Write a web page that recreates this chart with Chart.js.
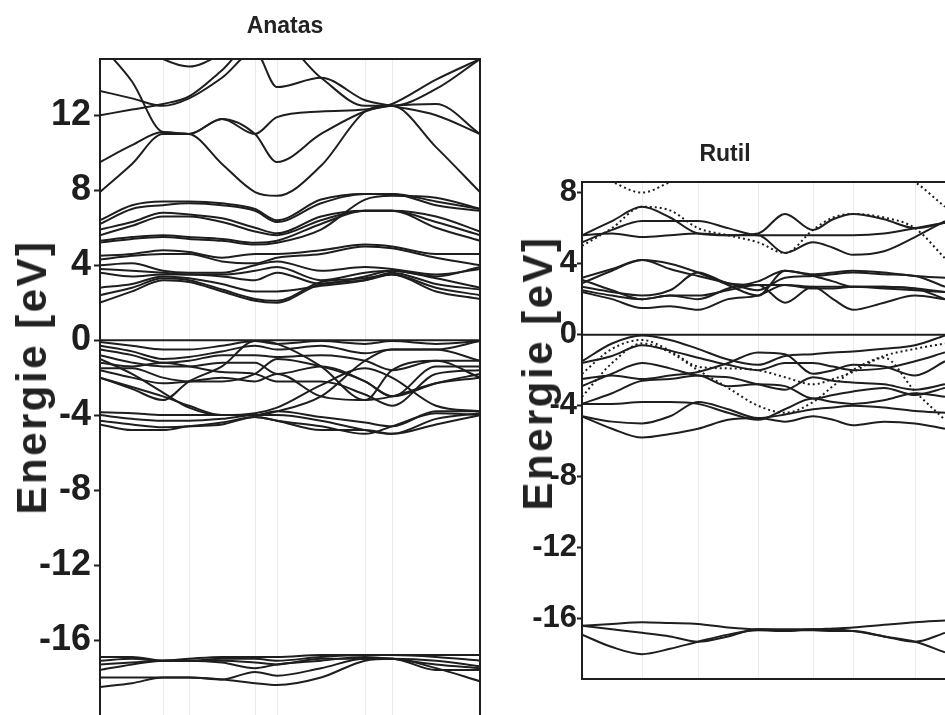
<!DOCTYPE html>
<html>
<head>
<title>Bandstruktur Anatas / Rutil</title>
<script src="https://cdn.jsdelivr.net/npm/chart.js"></script>
<style>
  html, body { margin: 0; padding: 0; background: #fff; overflow: hidden; }
  body { width: 945px; height: 715px; position: relative;
         font-family: "Liberation Sans", Arial, sans-serif; color: #222; }
  .box { position: absolute; top: 0; }
  .title { position: absolute; font-weight: bold; font-size: 23px; white-space: nowrap;
           transform: translate(-50%, -50%); }
  .ylab { position: absolute; font-weight: bold; font-size: 42px; letter-spacing: 2.5px;
          white-space: nowrap; transform: translate(-50%, -50%) rotate(-90deg); }
</style>
</head>
<body>

<div class="box" style="left:0;width:490px"><canvas id="anatas"></canvas></div>
<div class="box" style="left:500px;width:460px"><canvas id="rutil"></canvas></div>

<div class="title" style="left:285px;top:25px">Anatas</div>
<div class="title" style="left:725px;top:153px">Rutil</div>
<div class="ylab" style="left:32px;top:377px">Energie [eV]</div>
<div class="ylab" style="left:538px;top:373px">Energie [eV]</div>

<script>
/* ---------- ANATAS ---------- */
const anatasK = [0, 32, 63, 89, 122, 155, 177, 221, 265, 292, 336, 380];
const anatasSym = [63, 89, 155, 177, 265, 292];
const anatasTicks = [12, 8, 4, 0, -4, -8, -12, -16];

const anatasUpper = [
    [15.8, 13.8, 11.1, 11.0, 9.4, 7.9, 7.7, 9.3, 12.2, 12.6, 13.9, 15.0],
    [13.3, 12.9, 12.5, 12.9, 14.0, 15.4, 13.5, 14.0, 12.8, 12.5, 12.0, 11.0],
    [12.0, 12.3, 12.6, 13.0, 14.4, 16.0, 16.0, 14.0, 12.5, 12.5, 13.4, 15.0],
    [9.5, 10.4, 11.1, 11.0, 11.8, 11.0, 9.5, 11.0, 12.2, 12.5, 10.3, 7.9],
    [7.9, 9.4, 11.0, 11.0, 11.8, 11.0, 11.9, 12.2, 12.3, 12.5, 12.6, 11.0],
    [16.5, 16.0, 15.0, 14.6, 15.3, 16.5, 16.5, 16.5, 16.5, 16.5, 16.5, 16.5]
];
const anatasMiddle = [
    [6.4, 7.2, 7.4, 7.4, 7.3, 7.0, 6.4, 7.5, 7.8, 7.8, 7.4, 7.0],
    [6.2, 7.0, 7.2, 7.3, 7.2, 6.9, 6.3, 7.3, 7.8, 7.8, 7.2, 6.9],
    [5.9, 6.3, 6.8, 6.7, 6.5, 6.0, 5.7, 6.6, 6.9, 6.9, 6.6, 5.8],
    [5.6, 6.1, 6.6, 6.6, 6.3, 5.8, 5.6, 6.4, 6.9, 6.9, 6.3, 5.6],
    [5.3, 5.5, 5.6, 5.5, 5.4, 5.2, 5.3, 6.2, 6.9, 6.9, 6.0, 5.3],
    [5.2, 5.4, 5.5, 5.4, 5.3, 5.1, 5.2, 5.9, 7.5, 7.7, 7.6, 7.0],
    [4.5, 4.6, 4.8, 4.7, 4.4, 4.6, 4.6, 4.8, 5.1, 5.0, 4.6, 4.6],
    [4.3, 4.5, 4.6, 4.6, 4.2, 4.1, 4.4, 4.6, 5.0, 4.9, 4.4, 4.0],
    [4.0, 4.1, 3.7, 3.6, 3.6, 4.0, 4.2, 3.7, 3.9, 3.8, 3.5, 3.8],
    [3.8, 3.7, 3.6, 3.5, 3.5, 3.7, 3.9, 3.2, 3.6, 3.7, 3.4, 3.9],
    [3.6, 3.4, 3.5, 3.5, 3.4, 3.2, 3.6, 3.0, 3.4, 3.7, 3.3, 2.8],
    [2.8, 3.0, 3.4, 3.3, 3.0, 2.6, 2.6, 2.9, 3.2, 3.6, 3.0, 2.7],
    [2.4, 2.8, 3.3, 3.2, 2.7, 2.2, 2.1, 3.1, 3.3, 3.5, 2.8, 2.4],
    [2.0, 2.6, 3.2, 3.1, 2.6, 2.1, 2.0, 3.0, 3.2, 3.5, 2.6, 2.2]
];
const anatasValence = [
    [-0.1, -0.3, -0.5, -0.5, -0.3, -0.05, -0.2, -0.05, -0.2, -0.05, -0.2, -0.05],
    [-0.3, -0.6, -1.0, -0.9, -0.6, -0.3, -0.5, -0.3, -0.7, -0.5, -0.5, -0.05],
    [-0.5, -0.8, -1.2, -1.1, -0.8, -0.8, -0.9, -0.8, -1.1, -1.6, -1.1, -1.1],
    [-0.8, -1.2, -1.4, -1.4, -1.2, -1.2, -1.8, -1.4, -2.2, -3.0, -1.4, -1.4],
    [-1.2, -1.4, -1.2, -1.4, -1.7, -1.8, -2.2, -2.2, -2.9, -3.5, -1.8, -1.6],
    [-1.5, -1.5, -2.0, -2.2, -2.2, -1.8, -1.0, -1.4, -2.2, -3.0, -2.3, -1.8],
    [-1.6, -2.0, -2.3, -2.2, -2.0, -2.2, -1.8, -3.0, -3.2, -1.6, -1.1, -2.0],
    [-2.0, -2.5, -3.0, -3.5, -4.0, -4.0, -3.8, -3.0, -1.1, -0.5, -0.5, -1.1],
    [-2.0, -2.6, -3.2, -2.2, -1.4, -0.05, -0.2, -1.4, -3.2, -3.0, -2.3, -2.0],
    [-1.0, -1.8, -2.8, -3.6, -4.0, -3.9, -3.6, -2.4, -1.5, -2.0, -3.5, -3.8],
    [-3.85, -3.9, -4.0, -4.0, -4.0, -4.0, -3.8, -4.1, -4.4, -4.6, -3.8, -3.8],
    [-4.0, -4.2, -4.3, -4.3, -4.2, -4.0, -4.0, -4.3, -4.8, -5.0, -4.2, -3.9],
    [-4.3, -4.5, -4.65, -4.6, -4.4, -4.1, -4.3, -4.6, -5.0, -4.6, -3.9, -4.0],
    [-4.5, -4.8, -4.8, -4.6, -4.5, -4.1, -4.3, -4.8, -4.8, -5.0, -4.5, -4.0]
];
const anatasCore = [
    [-16.9, -16.9, -17.1, -17.0, -16.9, -16.9, -16.9, -16.8, -16.8, -16.8, -16.8, -16.8],
    [-17.1, -17.0, -17.1, -17.1, -17.0, -17.0, -17.1, -16.9, -16.8, -16.8, -16.9, -17.1],
    [-17.3, -17.2, -17.1, -17.1, -17.1, -17.2, -17.3, -17.0, -17.0, -17.0, -17.1, -17.4],
    [-17.6, -17.3, -17.1, -17.1, -17.2, -17.5, -17.3, -17.1, -16.9, -17.0, -17.3, -17.5],
    [-18.0, -18.0, -18.0, -18.0, -18.1, -17.7, -17.9, -17.5, -17.0, -17.0, -17.5, -18.2],
    [-18.5, -18.3, -18.0, -18.0, -18.1, -18.3, -18.4, -18.0, -17.1, -17.0, -17.6, -17.6]
];

/* ---------- RUTIL ---------- */
const rutilK = [0, 30, 60, 88, 116, 146, 176, 203, 231, 251, 271, 302, 333, 363];
const rutilSym = [60, 116, 176, 231, 271, 333];
const rutilTicks = [8, 4, 0, -4, -8, -12, -16];

const rutilConduction = [
    [5.6, 6.4, 7.2, 6.6, 5.7, 5.6, 5.7, 6.8, 5.9, 6.5, 6.8, 6.5, 6.0, 6.3],
    [5.6, 5.7, 5.5, 5.6, 5.7, 5.6, 5.6, 4.6, 5.2, 4.9, 4.5, 4.7, 5.5, 6.4],
    [5.2, 5.9, 6.4, 6.4, 6.4, 6.0, 5.6, 5.6, 5.6, 5.6, 5.6, 5.7, 6.0, 6.3],
    [3.2, 3.7, 4.2, 3.7, 3.3, 2.9, 2.5, 3.2, 3.3, 3.4, 3.5, 3.4, 3.3, 2.7],
    [2.9, 3.6, 4.2, 4.0, 3.5, 2.8, 2.2, 3.6, 3.3, 3.0, 2.7, 2.7, 2.6, 2.4],
    [2.7, 2.4, 2.2, 2.5, 3.5, 2.9, 2.8, 2.8, 2.7, 2.7, 2.7, 2.7, 2.6, 2.0],
    [2.5, 2.2, 2.0, 2.2, 2.2, 2.5, 2.8, 1.8, 2.7, 2.0, 1.4, 1.8, 2.2, 2.0],
    [2.4, 2.0, 1.5, 1.6, 1.4, 2.0, 2.2, 2.8, 2.6, 2.6, 2.7, 2.6, 2.5, 2.4],
    [3.1, 2.5, 2.0, 2.2, 2.0, 2.6, 3.0, 3.6, 3.4, 3.5, 3.6, 3.5, 3.3, 3.2]
];
const rutilConductionDotted = [
    [9.2, 8.6, 8.0, 8.6, 9.3, 9.6, 9.6, 9.6, 9.6, 9.6, 9.6, 9.6, 8.6, 7.2],
    [5.0, 6.0, 7.2, 7.0, 6.0, 5.6, 5.2, 4.6, 5.9, 6.6, 6.8, 6.6, 6.0, 4.3]
];
const rutilValence = [
    [-1.5, -0.5, -0.05, -0.3, -0.8, -1.4, -1.7, -1.2, -1.1, -1.0, -0.95, -0.8, -0.6, -0.05],
    [-1.6, -1.2, -0.6, -0.9, -1.3, -1.7, -2.0, -1.6, -1.6, -1.8, -2.0, -1.9, -1.5, -1.0],
    [-2.5, -2.3, -2.5, -2.3, -2.1, -1.6, -1.0, -1.1, -2.2, -2.0, -1.7, -1.8, -2.3, -1.5],
    [-2.9, -2.2, -1.6, -1.9, -2.3, -2.4, -2.8, -3.1, -2.4, -2.6, -2.7, -2.8, -3.1, -2.8],
    [-3.9, -3.3, -2.6, -2.5, -2.3, -2.9, -2.8, -2.9, -3.6, -3.4, -3.2, -3.0, -3.4, -3.0],
    [-3.9, -3.9, -3.8, -3.8, -3.9, -4.4, -4.8, -4.2, -3.6, -3.8, -3.9, -3.7, -3.3, -3.5],
    [-4.6, -4.9, -5.0, -4.6, -3.8, -4.2, -4.7, -4.5, -4.2, -4.1, -4.0, -4.1, -4.3, -4.4],
    [-4.6, -5.3, -5.8, -5.6, -5.3, -4.8, -4.7, -4.9, -4.6, -4.8, -5.1, -4.9, -5.0, -5.3]
];
const rutilValenceDotted = [
    [-3.5, -1.6, -0.5, -1.0, -2.0, -3.0, -4.0, -4.4, -3.8, -2.9, -2.0, -1.2, -0.8, -0.5],
    [-2.2, -0.8, -0.3, -0.9, -1.8, -1.9, -2.0, -2.4, -2.8, -2.5, -2.1, -1.3, -3.2, -4.8]
];
const rutilCore = [
    [-16.4, -16.3, -16.2, -16.25, -16.3, -16.5, -16.6, -16.6, -16.6, -16.55, -16.5, -16.35, -16.2, -16.1],
    [-16.4, -16.6, -16.8, -17.0, -17.3, -17.0, -16.6, -16.65, -16.65, -16.7, -16.7, -17.0, -17.3, -16.8],
    [-16.9, -17.6, -18.0, -17.7, -17.3, -16.9, -16.65, -16.7, -16.6, -16.6, -16.7, -17.0, -17.3, -17.9]
];

/* ---------- HELPERS ---------- */
const FONT = '"Liberation Sans", Arial, sans-serif';
const INK = "#1e1e1e";

function bandSets(k, bands, dash) {
    return bands.map(b => ({
        data: b.map((e, i) => ({ x: k[i], y: e })),
        borderColor: INK,
        borderWidth: 2,
        borderDash: dash || [],
        pointRadius: 0,
        cubicInterpolationMode: "monotone"
    }));
}

const frame = {
    id: "frame",
    afterDatasetsDraw(chart) {
        const a = chart.chartArea, c = chart.ctx;
        c.save();
        c.strokeStyle = INK;
        c.lineWidth = 2;
        c.strokeRect(a.left, a.top, a.right - a.left, a.bottom - a.top);
        c.restore();
    }
};

function makeChart(id, cfg) {
    const zero = { data: [{ x: 0, y: 0 }, { x: cfg.xmax, y: 0 }], borderColor: INK,
                   borderWidth: 2, pointRadius: 0 };
    new Chart(document.getElementById(id), {
        type: "line",
        data: { datasets: [zero].concat(cfg.datasets) },
        options: {
            responsive: false,
            animation: false,
            events: [],
            layout: { padding: cfg.padding },
            plugins: { legend: { display: false }, tooltip: { enabled: false } },
            scales: {
                x: {
                    type: "linear", min: 0, max: cfg.xmax,
                    afterBuildTicks: ax => { ax.ticks = cfg.sym.map(v => ({ value: v })); },
                    afterFit: ax => { ax.height = 0; ax.paddingLeft = 0; ax.paddingRight = 0; },
                    ticks: { display: false },
                    border: { display: false },
                    grid: { color: "rgba(0,0,0,0.08)", lineWidth: 1, drawTicks: false }
                },
                y: {
                    min: cfg.ymin, max: cfg.ymax,
                    afterBuildTicks: ax => { ax.ticks = cfg.ticks.map(v => ({ value: v })); },
                    afterFit: ax => { ax.width = cfg.axisWidth; ax.paddingTop = 0; ax.paddingBottom = 0; },
                    ticks: { color: INK, padding: cfg.tickPad, font: { family: FONT, size: cfg.tickSize, weight: "bold" } },
                    border: { display: false },
                    grid: { drawOnChartArea: false, drawTicks: true, tickLength: cfg.tickLen, tickColor: INK, tickWidth: 2 }
                }
            }
        },
        plugins: [frame]
    });
}

function sizeCanvas(id, w, h) {
    const c = document.getElementById(id);
    c.width = w; c.height = h;
    c.style.width = w + "px"; c.style.height = h + "px";
}

// the Anatas frame runs past the bottom edge of the picture
sizeCanvas("anatas", 490, 730);
sizeCanvas("rutil", 460, 715);

makeChart("anatas", {
    xmax: 380, ymin: -20.8, ymax: 15, axisWidth: 100, tickSize: 36, tickPad: 3, tickLen: 6,
    padding: { top: 59, bottom: 0, left: 0, right: 10 },
    sym: anatasSym, ticks: anatasTicks,
    datasets: [].concat(
        bandSets(anatasK, anatasUpper),
        bandSets(anatasK, anatasMiddle),
        bandSets(anatasK, anatasValence),
        bandSets(anatasK, anatasCore))
});

makeChart("rutil", {
    xmax: 368, ymin: -19.4, ymax: 8.6, axisWidth: 82, tickSize: 31, tickPad: 0, tickLen: 5,
    padding: { top: 182, bottom: 36, left: 0, right: 10 },
    sym: rutilSym, ticks: rutilTicks,
    datasets: [].concat(
        bandSets(rutilK, rutilConduction),
        bandSets(rutilK, rutilConductionDotted, [2, 3]),
        bandSets(rutilK, rutilValence),
        bandSets(rutilK, rutilValenceDotted, [2, 3]),
        bandSets(rutilK, rutilCore))
});
</script>
</body>
</html>
